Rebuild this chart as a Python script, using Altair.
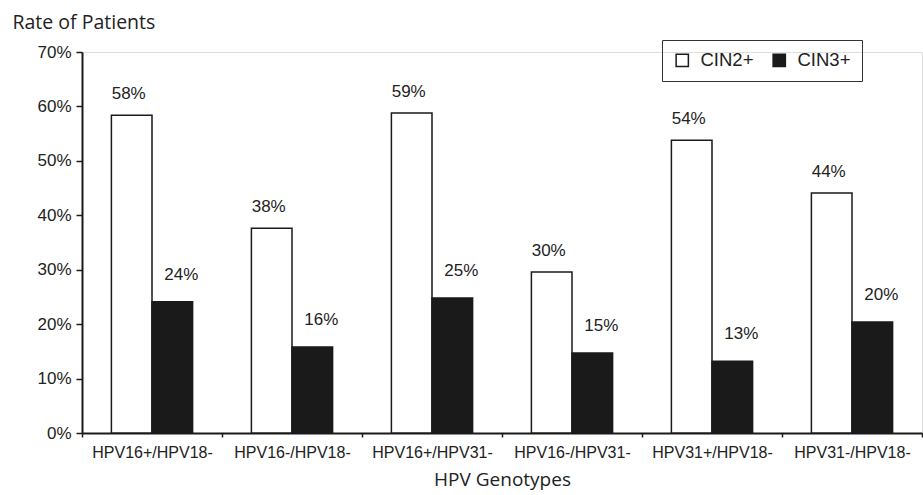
import altair as alt
import pandas as pd

categories = ["HPV16+/HPV18-", "HPV16-/HPV18-", "HPV16+/HPV31-",
              "HPV16-/HPV31-", "HPV31+/HPV18-", "HPV31-/HPV18-"]
series = ["CIN2+", "CIN3+"]
cin2 = [58.4, 37.6, 58.8, 29.6, 53.8, 44.1]
cin3 = [24.1, 15.8, 24.8, 14.7, 13.2, 20.4]
y_ticks = [0, 10, 20, 30, 40, 50, 60, 70]

rows = []
for c, a, b in zip(categories, cin2, cin3):
    rows.append({"genotype": c, "series": "CIN2+", "rate": a, "label": f"{a:.0f}%"})
    rows.append({"genotype": c, "series": "CIN3+", "rate": b, "label": f"{b:.0f}%"})
df = pd.DataFrame(rows)

INK = "#1a1a1a"
LABEL_FONT = "Liberation Sans"
TITLE_FONT = "Open Sans"

x = alt.X(
    "genotype:N", sort=categories,
    scale=alt.Scale(paddingInner=0, paddingOuter=0),
    axis=alt.Axis(
        title="HPV Genotypes", labelAngle=0, tickBand="extent",
        domainColor=INK, domainWidth=2, tickColor=INK, tickWidth=1.5, tickSize=4,
        labelPadding=7, labelFont=LABEL_FONT, labelFontSize=16, labelColor="#222",
        titleFont=TITLE_FONT, titleFontSize=19, titleFontWeight="normal", titleColor="#222",
        titleY=52, titleBaseline="alphabetic",
    ),
)
xoff = alt.XOffset("series:N", sort=series,
                   scale=alt.Scale(paddingInner=0, paddingOuter=0.724))
y = alt.Y(
    "rate:Q",
    scale=alt.Scale(domain=[0, 70], nice=False),
    axis=alt.Axis(
        values=y_ticks, labelExpr="datum.value + '%'", grid=False,
        title="Rate of Patients",
        domainColor=INK, domainWidth=2, tickColor=INK, tickWidth=1.5, tickSize=6,
        labelPadding=5, labelFont=LABEL_FONT, labelFontSize=17, labelColor="#222",
        titleFont=TITLE_FONT, titleFontSize=19.5, titleFontWeight="normal", titleColor="#222",
        titleAngle=0, titleAlign="left", titleX=-70, titleY=-24, titleBaseline="alphabetic",
    ),
)

color = alt.Color(
    "series:N", sort=series,
    scale=alt.Scale(domain=series, range=["white", INK]),
    legend=alt.Legend(
        title=None, orient="none", legendX=580, legendY=-12, direction="horizontal",
        symbolType="square", symbolSize=150, symbolStrokeColor=INK, symbolStrokeWidth=1.5,
        labelFont=LABEL_FONT, labelFontSize=18.5, labelColor="#222", labelOffset=9,
        strokeColor="#333", padding=11, columnPadding=16,
    ),
)

base = alt.Chart(df)

bars = base.mark_bar(stroke=INK, strokeWidth=1.5).encode(x=x, xOffset=xoff, y=y, color=color)

text_style = dict(font=LABEL_FONT, fontSize=17, color="#222", baseline="middle")
labels2 = base.transform_filter(alt.datum.series == "CIN2+").mark_text(
    dx=-3, dy=-21, **text_style
).encode(x=x, xOffset=xoff, y=y, text="label:N")
labels3 = base.transform_filter(alt.datum.series == "CIN3+").mark_text(
    dx=9, dy=-27, **text_style
).encode(x=x, xOffset=xoff, y=y, text="label:N")

chart = alt.layer(bars, labels2, labels3).properties(
    width=840, height=381,
    autosize=alt.AutoSizeParams(type="none"),
    padding={"left": 82, "top": 52, "right": 1, "bottom": 62},
).configure_view(stroke=None).configure(background="white")

chart.save("out.html", embed_options={"renderer": "svg", "actions": False})
